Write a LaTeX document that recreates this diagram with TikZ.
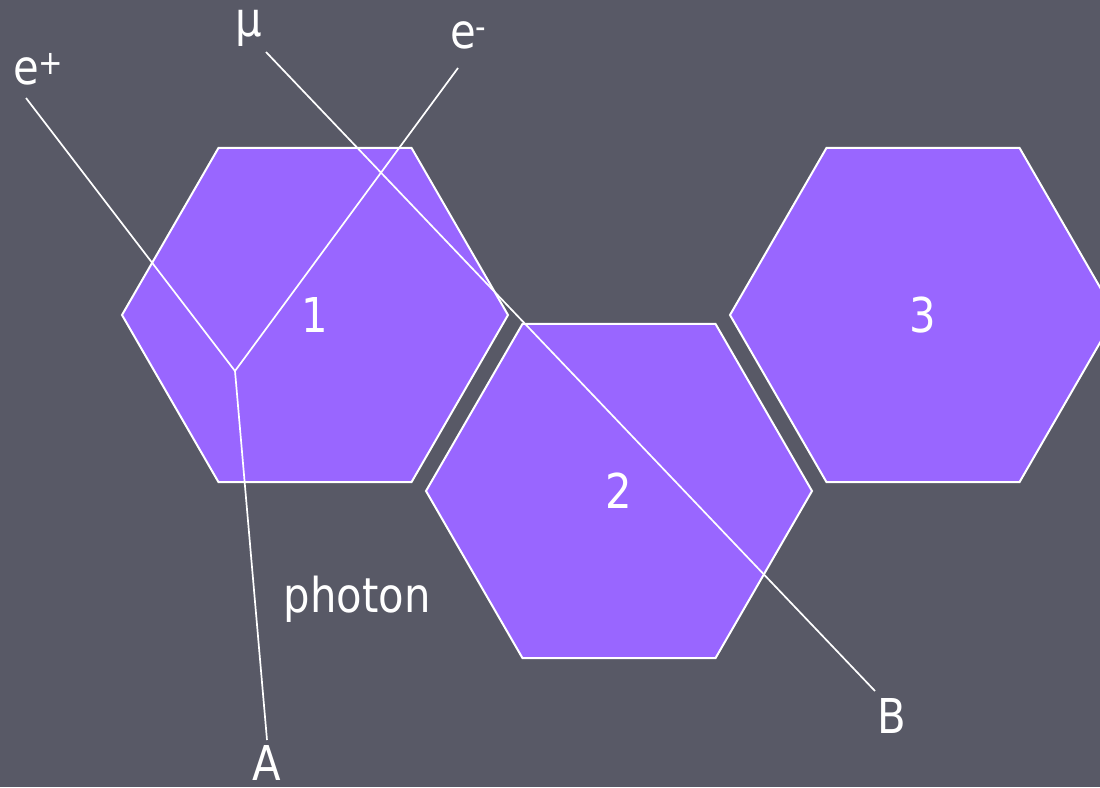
\documentclass[tikz,border=0pt]{standalone}
\usepackage{fontspec}
\setmainfont[FakeStretch=0.87]{DejaVu Sans}
\usetikzlibrary{shapes.geometric}
\definecolor{bg}{HTML}{585966}
\definecolor{hexfill}{HTML}{9966FF}
\begin{document}
\begin{tikzpicture}[x=1pt,y=-1pt,
  hexa/.style={regular polygon,regular polygon sides=6,minimum size=386pt,inner sep=0pt,outer sep=0pt,fill=hexfill,draw=white,line width=2pt,text=white,font=\fontsize{48}{56}\selectfont},
  lbl/.style={text=white,font=\fontsize{48}{56}\selectfont,inner sep=0pt,outer sep=0pt},
  track/.style={draw=white,line width=1.7pt}]
\useasboundingbox (0,0) rectangle (1100,787);
\clip (0,0) rectangle (1100,787);
\fill[bg] (0,0) rectangle (1100,787);
% hexagons
\node[hexa] (h1) at (315,315) {1};
\node[hexa] (h2) at (619,491) {2};
\node[hexa] (h3) at (923,315) {3};
% labels
\node[lbl,anchor=base west] (ep) at (13,84) {e\textsuperscript{+}};
\node[lbl,anchor=base] (mu) at (249,36) {μ};
\node[lbl,anchor=base west] (em) at (450,48) {e\textsuperscript{-}};
\node[lbl,anchor=base] (A) at (267,780) {A};
\node[lbl,anchor=base] (B) at (892,733) {B};
\node[lbl,anchor=base] (ph) at (357,612) {photon};
% track ends
\coordinate (V) at (235,371);
\coordinate (ep0) at (26,98);
\coordinate (em0) at (458,68);
\coordinate (A0) at (267,740);
\coordinate (mu0) at (266,52);
\coordinate (B0) at (875,691);
% tracks
\draw[track] (ep0) -- (V);
\draw[track] (em0) -- (V);
\draw[track] (V) -- (A0);
\draw[track] (mu0) -- (B0);
\end{tikzpicture}
\end{document}
